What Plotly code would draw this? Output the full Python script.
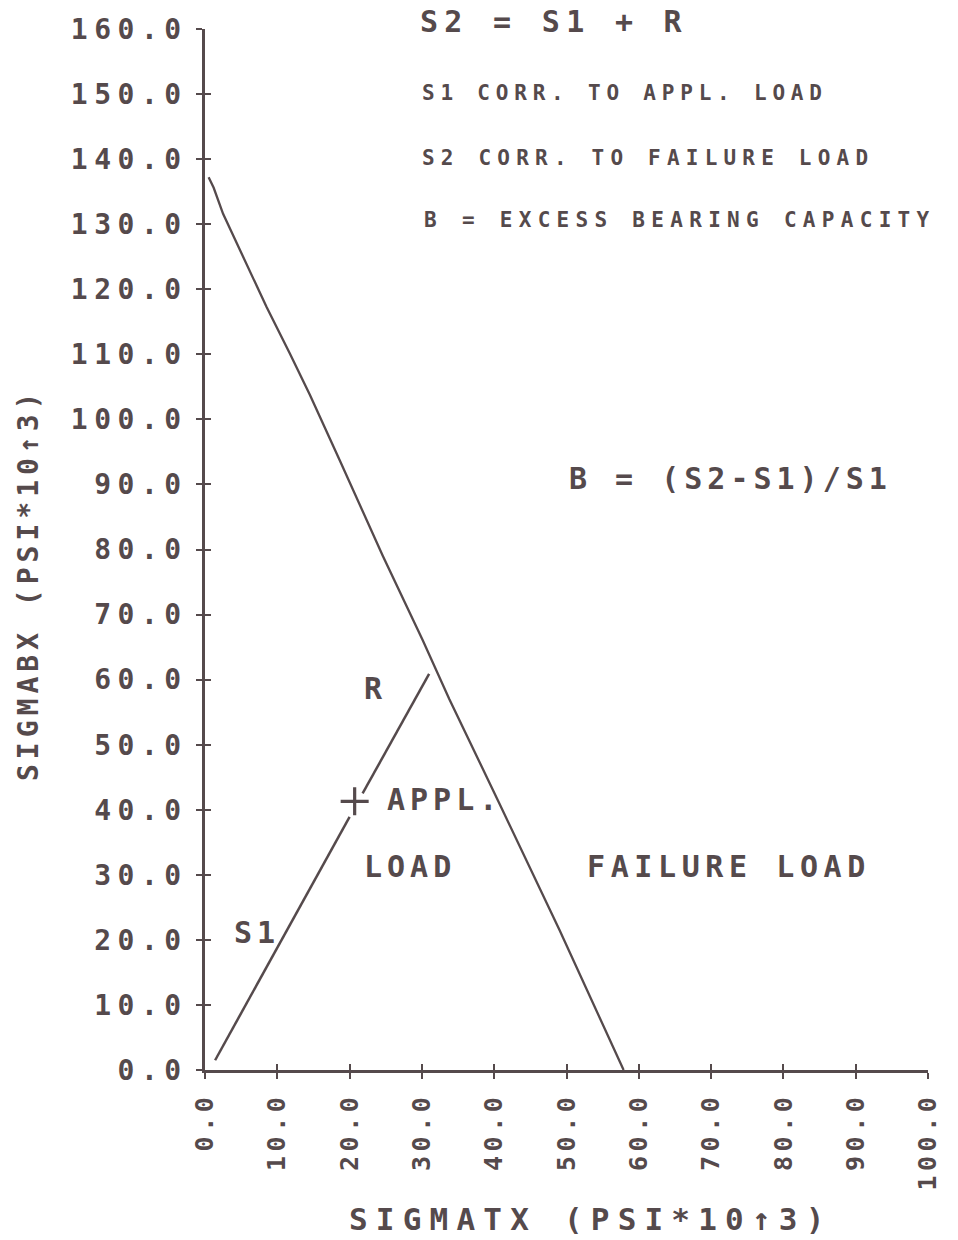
import plotly.graph_objects as go

# ---------------- data ----------------
failure_x = [0.5, 1.2, 2.5, 5.3, 8.5, 11.7, 14.5, 18.6, 24.6, 30.1, 33.8, 40.7, 49.0, 57.9]
failure_y = [137.2, 135.6, 131.6, 124.9, 117.3, 110.2, 103.8, 93.8, 79.0, 66.1, 57.0, 41.0, 21.6, 0.0]

s1_lower_x = [1.4, 20.0]
s1_lower_y = [1.5, 38.9]
s1_upper_x = [21.8, 31.0]
s1_upper_y = [42.5, 60.9]

appl_x = [20.7]
appl_y = [41.3]

x_tick_vals = [0, 10, 20, 30, 40, 50, 60, 70, 80, 90, 100]
x_tick_labels = ["0.0", "10.0", "20.0", "30.0", "40.0", "50.0", "60.0", "70.0", "80.0", "90.0", "100.0"]
y_tick_vals = [0, 10, 20, 30, 40, 50, 60, 70, 80, 90, 100, 110, 120, 130, 140, 150, 160]
y_tick_labels = ["0.0", "10.0", "20.0", "30.0", "40.0", "50.0", "60.0", "70.0", "80.0", "90.0",
                 "100.0", "110.0", "120.0", "130.0", "140.0", "150.0", "160.0"]

# ---------------- style ----------------
INK = "#554a4c"
FONT = "DejaVu Sans Mono"


def spaced(text, px):
    return f'<span style="letter-spacing:{px}px">{text}</span>'


fig = go.Figure()

fig.add_trace(go.Scatter(x=failure_x, y=failure_y, mode="lines",
                         line=dict(color=INK, width=2.3), hoverinfo="skip"))
fig.add_trace(go.Scatter(x=s1_lower_x, y=s1_lower_y, mode="lines",
                         line=dict(color=INK, width=2.5), hoverinfo="skip"))
fig.add_trace(go.Scatter(x=s1_upper_x, y=s1_upper_y, mode="lines",
                         line=dict(color=INK, width=2.5), hoverinfo="skip"))
fig.add_trace(go.Scatter(x=appl_x, y=appl_y, mode="markers",
                         marker=dict(symbol="cross-thin", size=20, line=dict(color=INK, width=3.2)),
                         hoverinfo="skip"))
# empty traces so the overlay tick axes are drawn
fig.add_trace(go.Scatter(x=[], y=[], xaxis="x2", yaxis="y", hoverinfo="skip"))
fig.add_trace(go.Scatter(x=[], y=[], xaxis="x", yaxis="y2", hoverinfo="skip"))

W, H = 958, 1240
L, R, T, B = 205, 30, 29, 170
pw, ph = W - L - R, H - T - B


def px_x(px):
    return (px - L) / pw


def px_y(py):
    return (H - py - B) / ph


annotations = []


def note(text, x, y, size, sp, xref="x", yref="y", textangle=0, xanchor="left"):
    annotations.append(dict(
        text=spaced(text, sp), x=x, y=y, xref=xref, yref=yref,
        xanchor=xanchor, yanchor="middle", showarrow=False, textangle=textangle,
        font=dict(family=FONT, size=size, color=INK, weight="bold")))


note("S2 = S1 + R", px_x(418), px_y(22), 30, 6.3, xref="paper", yref="paper")
note("S1 CORR. TO APPL. LOAD", 29.7, 150.2, 21, 5.8)
note("S2 CORR. TO FAILURE LOAD", 29.7, 140.2, 21, 6.2)
note("B = EXCESS BEARING CAPACITY", 30.0, 130.6, 21, 6.3)
note("B = (S2-S1)/S1", 50.1, 90.9, 30, 5)
note("R", 21.7, 58.7, 30, 5)
note("APPL.", 24.9, 41.5, 30, 5)
note("LOAD", 21.7, 31.3, 30, 5)
note("FAILURE LOAD", 52.6, 31.3, 30, 5.6)
note("S1", 3.7, 21.2, 30, 5)

# axis titles placed where the reference puts them
note("SIGMATX (PSI*10↑3)", px_x(591), px_y(1219), 31, 8.2, xref="paper", yref="paper",
     xanchor="center")
note("SIGMABX (PSI*10↑3)", px_x(28), px_y(585), 28, 5, xref="paper", yref="paper",
     textangle=-90, xanchor="center")

axis_common = dict(showgrid=False, zeroline=False, showline=True, linecolor=INK, linewidth=2.5,
                   tickcolor=INK, tickwidth=2, ticklen=6, ticks="outside")

fig.update_layout(
    width=W, height=H,
    margin=dict(l=L, r=R, t=T, b=B, pad=0),
    paper_bgcolor="white", plot_bgcolor="white",
    showlegend=False,
    annotations=annotations,
    xaxis=dict(range=[0, 100], tickvals=x_tick_vals,
               ticktext=[spaced(t, 4.5) for t in x_tick_labels], tickangle=-90,
               ticklabelstandoff=4,
               tickfont=dict(family=FONT, size=25, color=INK, weight="bold"), **axis_common),
    yaxis=dict(range=[0, 160], tickvals=y_tick_vals,
               ticktext=[spaced(t, 6.5) for t in y_tick_labels],
               ticklabelstandoff=3,
               tickfont=dict(family=FONT, size=28, color=INK, weight="bold"), **axis_common),
    xaxis2=dict(range=[0, 100], overlaying="x", anchor="y", side="bottom", tickvals=x_tick_vals,
                showticklabels=False, showgrid=False, zeroline=False, showline=False,
                ticks="inside", ticklen=6, tickwidth=2, tickcolor=INK),
    yaxis2=dict(range=[0, 160], overlaying="y", anchor="x", side="left", tickvals=y_tick_vals,
                showticklabels=False, showgrid=False, zeroline=False, showline=False,
                ticks="inside", ticklen=6, tickwidth=2, tickcolor=INK),
)

fig.write_html("out.html")
